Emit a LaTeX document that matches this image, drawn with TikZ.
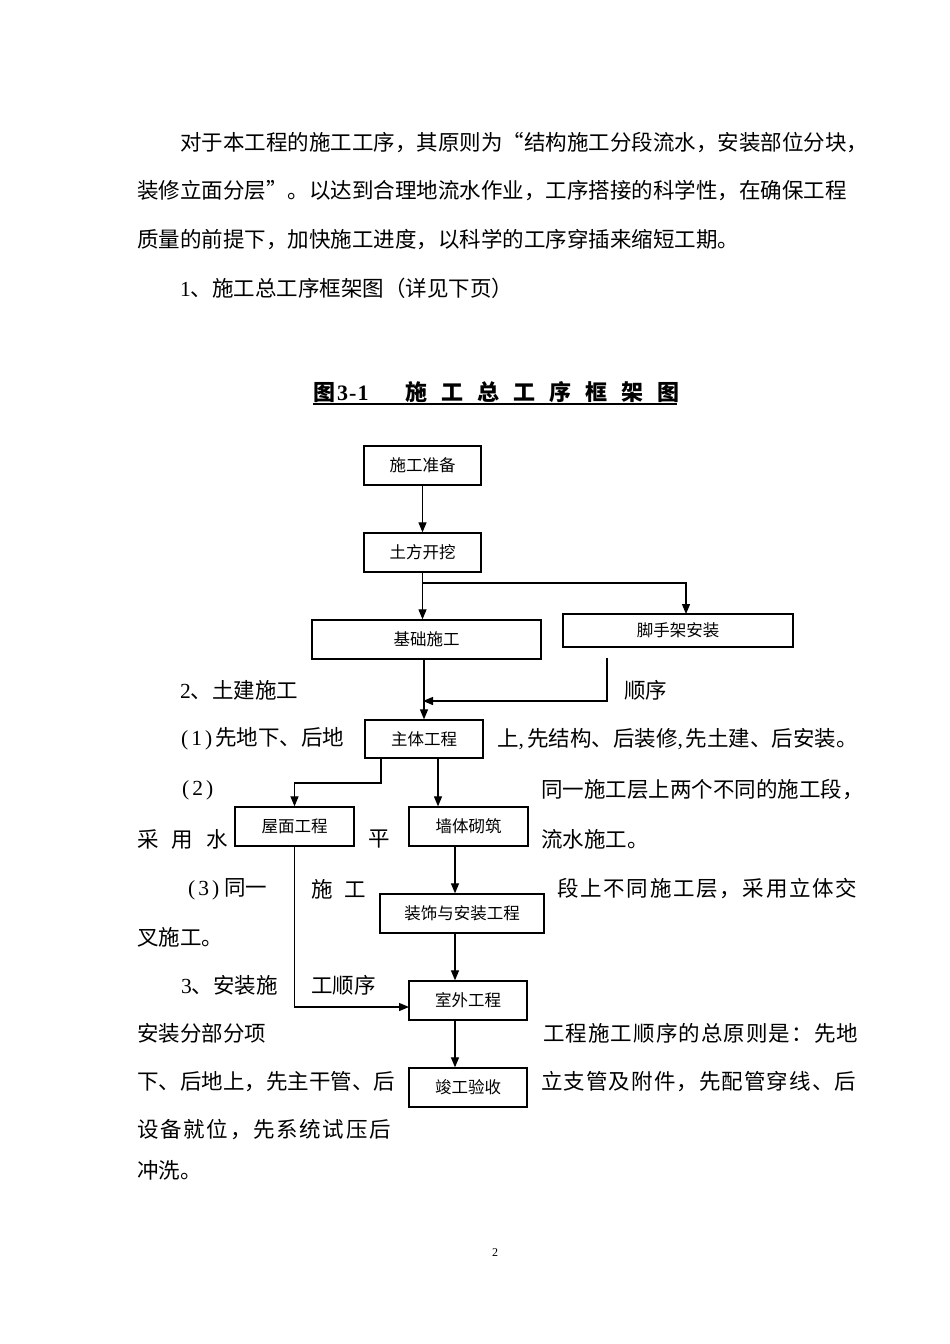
\documentclass[tikz,border=0pt]{standalone}
\usepackage{fontspec}
\setmainfont{Noto Sans CJK SC}
\newfontfamily\lat{Liberation Serif}
\usetikzlibrary{arrows.meta}
\tikzset{
  box/.style={draw, line width=1.3pt, inner sep=0pt, font=\fontsize{16.5}{20}\selectfont},
  arr/.style={line width=1.2pt, -{Triangle[length=10pt,width=8pt]}},
  txt/.style={anchor=west, inner sep=0pt, font=\fontsize{21.5}{26}\selectfont},
}
\newcommand{\lsp}[2]{{\addfontfeature{LetterSpace=#1}#2}}
\begin{document}
\begin{tikzpicture}[x=1pt,y=-1pt]
\useasboundingbox[fill=white] (0,0) rectangle (950,1344);
% paragraph text
\node[txt] (l1) at (180,143) {对于本工程的施工工序，其原则为“结构施工分段流水，安装部位分块，};
\node[txt] (l2) at (137,191) {装修立面分层”。以达到合理地流水作业，工序搭接的科学性，在确保工程};
\node[txt] (l3) at (137,240) {质量的前提下，加快施工进度，以科学的工序穿插来缩短工期。};
\node[txt] (l4) at (180,288) {{\lat 1}、施工总工序框架图（详见下页）};
% title
\node[anchor=west, inner sep=0pt, font=\fontsize{22}{26}\selectfont\bfseries] (title) at (313,392)
  {图{\lat\bfseries\hspace{2pt}3\hspace{1pt}-\hspace{1pt}1}\hspace{37pt}施\hspace{14pt}工\hspace{14pt}总\hspace{14pt}工\hspace{14pt}序\hspace{14pt}框\hspace{14pt}架\hspace{14pt}图};
\coordinate (ul1) at (313,404);
\coordinate (ul2) at (677,404);
\draw[line width=1.2pt] (ul1) -- (ul2);
% boxes
\node[box, minimum width=117pt, minimum height=39pt] (prep) at (422.5,465.5) {施工准备};
\node[box, minimum width=117pt, minimum height=39pt] (dig) at (422.5,552.5) {土方开挖};
\node[box, minimum width=229pt, minimum height=39pt] (found) at (426.5,639.5) {基础施工};
\node[box, minimum width=230pt, minimum height=33pt] (scaf) at (678,630.5) {脚手架安装};
\node[box, minimum width=118pt, minimum height=38pt] (main) at (424,739) {主体工程};
\node[box, minimum width=119pt, minimum height=39pt] (roof) at (294.5,826.5) {屋面工程};
\node[box, minimum width=119pt, minimum height=39pt] (wall) at (468.5,826.5) {墙体砌筑};
\node[box, minimum width=164pt, minimum height=39pt] (deco) at (462,913.5) {装饰与安装工程};
\node[box, minimum width=118pt, minimum height=39pt] (outd) at (468,1000.5) {室外工程};
\node[box, minimum width=118pt, minimum height=39pt] (done) at (468,1087.5) {竣工验收};
% connectors
\draw[arr] (prep) -- (dig);
\draw[arr] (dig.south) -- (dig.south |- found.north);
\coordinate (br) at (422.5,583);
\coordinate (scn) at (686,614);
\draw[arr] (br) -| (scn);
\draw[arr] (main.north |- found.south) -- (main.north);
\coordinate (sf) at (607,658);
\coordinate (sj) at (423,701);
\draw[arr] (sf) |- (sj);
\coordinate (ml) at (381,758);
\coordinate (mlk) at (381,783);
\draw[arr] (ml) -- (mlk) -| (roof.north);
\coordinate (mr) at (438,758);
\draw[arr] (mr) -- (mr |- wall.north);
\coordinate (ws) at (455,846);
\draw[arr] (ws) -- (ws |- deco.north);
\coordinate (ds) at (455,933);
\draw[arr] (ds) -- (ds |- outd.north);
\coordinate (os) at (455,1020);
\draw[arr] (os) -- (os |- done.north);
\coordinate (ow) at (409,1007);
\draw[arr] (roof.south) |- (ow);
% wrapped text
\node[txt] (t1) at (180,690) {{\lat 2}、土建施工};
\node[txt] (t2) at (624,690) {顺序};
\node[txt] (t3) at (181,739) {{\lat (\hspace{3pt}1\hspace{3pt})\hspace{3pt}}先地下、后地};
\node[txt] (t4) at (497,739) {上{\lat ,}\hspace{3pt}先结构、后装修{\lat ,}\hspace{3pt}先土建、后安装。};
\node[txt] (t5) at (182,790) {{\lat (\hspace{3pt}2\hspace{3pt})}};
\node[txt] (t6) at (541,790) {同一施工层上两个不同的施工段，};
\node[txt] (t7) at (137,839) {采\hspace{13pt}用\hspace{13pt}水};
\node[txt] (t8) at (368,839) {平};
\node[txt] (t9) at (541,839) {流水施工。};
\node[txt] (t10) at (188,889) {{\lat (\hspace{3pt}3\hspace{3pt})\hspace{5pt}}同一};
\node[txt] (t11) at (311,889) {施\hspace{12pt}工};
\node[txt] (t12) at (557,889) {\lsp{8}{段上不同施工层，采用立体交}};
\node[txt] (t13) at (137,937) {叉施工。};
\node[txt] (t14) at (181,985) {{\lat 3}、安装施};
\node[txt] (t15) at (311,985) {工顺序};
\node[txt] (t16) at (137,1033) {安装分部分项};
\node[txt] (t17) at (543,1033) {\lsp{5}{工程施工顺序的总原则是：先地}};
\node[txt] (t18) at (137,1082) {下、后地上，先主干管、后};
\node[txt] (t19) at (541,1082) {\lsp{5}{立支管及附件，先配管穿线、后}};
\node[txt] (t20) at (137,1130) {\lsp{8}{设备就位，先系统试压后}};
\node[txt] (t21) at (137,1170) {冲洗。};
\node[inner sep=0pt, font=\lat\fontsize{12}{14}\selectfont] (pg) at (495,1253) {2};
\end{tikzpicture}
\end{document}
